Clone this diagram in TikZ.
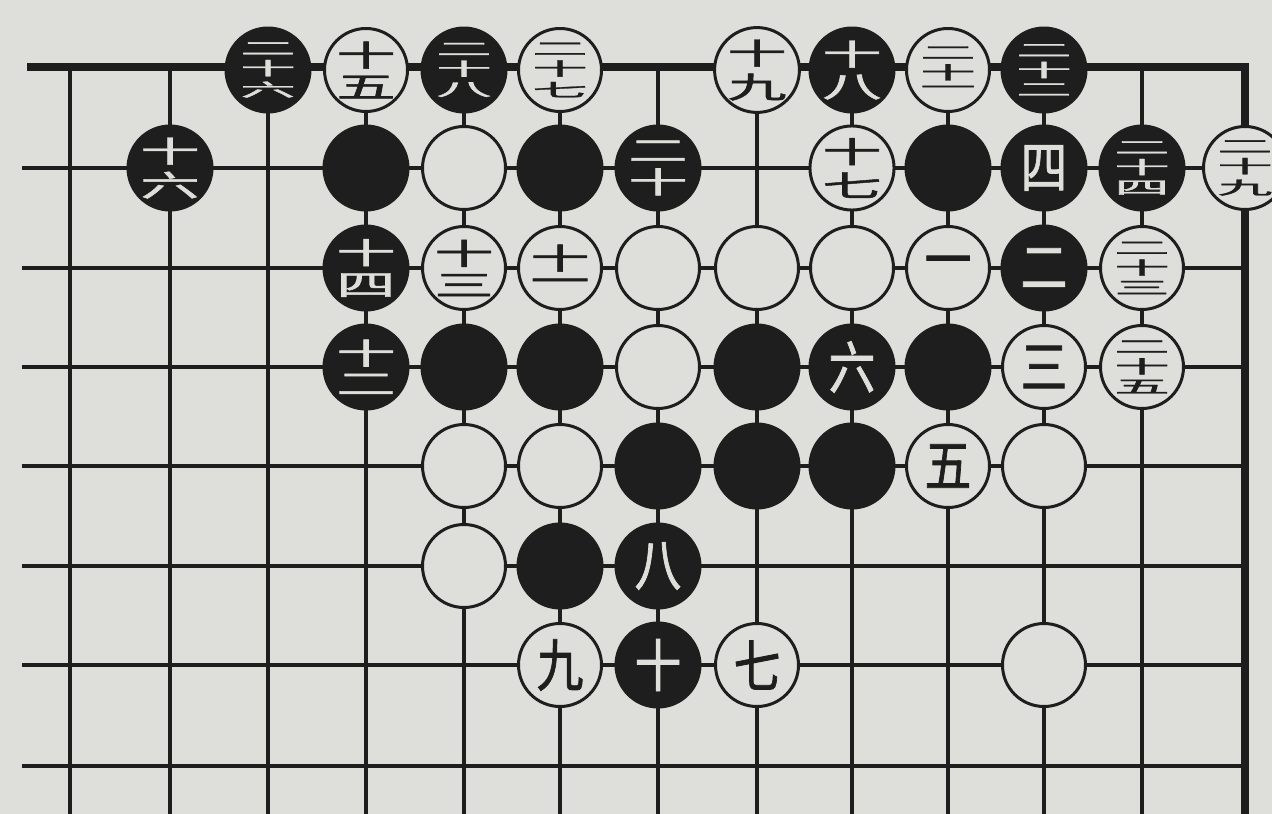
\documentclass[tikz,border=0pt]{standalone}
\usepackage{fontspec}
\usepackage{graphicx}
\newfontfamily\cjk[FakeBold=1.5]{Noto Sans CJK SC}
\definecolor{paper}{RGB}{222,222,218}
\definecolor{ink}{RGB}{30,30,30}
\newcommand\one[1]{\scalebox{0.95}[1.15]{#1}}
\newcommand\two[2]{\shortstack{\scalebox{1.2}[0.6]{#1}\\[1pt]\scalebox{1.2}[0.6]{#2}}}
\newcommand\three[3]{\shortstack{\scalebox{1.12}[0.36]{#1}\\[0pt]\scalebox{1.12}[0.36]{#2}\\[0pt]\scalebox{1.12}[0.36]{#3}}}
\tikzset{
  gridline/.style={ink, line width=1.9pt},
  edgeline/.style={ink, line width=4.5pt, line join=miter},
  bst/.style={circle, inner sep=0pt, minimum size=1.74cm, fill=ink, text=paper, font=\cjk\fontsize{28}{30}\selectfont},
  wst/.style={circle, inner sep=0pt, minimum size=1.66cm, draw=ink, line width=1.7pt, fill=paper, text=ink, font=\cjk\fontsize{28}{30}\selectfont}
}
\begin{document}
\begin{tikzpicture}[x=0.02cm,y=-0.02cm]
\fill[paper] (0,0) rectangle (1272,814);
\useasboundingbox (0,0) rectangle (1272,814);
% grid
\foreach \x in {70,170,268,366,464,560,658,757,852,948,1044,1142}
  \draw[gridline] (\x,67) -- (\x,814);
\foreach \y in {168,268,367,466,566,665,766}
  \draw[gridline] (22,\y) -- (1245,\y);
\draw[edgeline] (27,67) -- (1245,67) -- (1245,814);
% row 0
\node[bst] (s26) at (268,70) {\three{二}{十}{六}};
\node[wst] (s15) at (366,70) {\two{十}{五}};
\node[bst] (s28) at (464,70) {\three{二}{十}{八}};
\node[wst] (s27) at (560,70) {\three{二}{十}{七}};
\node[wst] (s19) at (757,70) {\two{十}{九}};
\node[bst] (s18) at (852,70) {\two{十}{八}};
\node[wst] (s21) at (948,70) {\three{二}{十}{一}};
\node[bst] (s22) at (1044,70) {\three{二}{十}{二}};
% row 1
\node[bst] (s16) at (170,168) {\two{十}{六}};
\node[bst] (b31) at (366,168) {};
\node[wst] (w41) at (464,168) {};
\node[bst] (b51) at (560,168) {};
\node[bst] (s20) at (658,168) {\two{二}{十}};
\node[wst] (s17) at (852,168) {\two{十}{七}};
\node[bst] (b91) at (948,168) {};
\node[bst] (s4) at (1044,168) {\one{四}};
\node[bst] (s24) at (1142,168) {\three{二}{十}{四}};
\node[wst] (s29) at (1245,168) {\three{二}{十}{九}};
% row 2
\node[bst] (s14) at (366,268) {\two{十}{四}};
\node[wst] (s13) at (464,268) {\two{十}{三}};
\node[wst] (s11) at (560,268) {\two{十}{一}};
\node[wst] (w62) at (658,268) {};
\node[wst] (w72) at (757,268) {};
\node[wst] (w82) at (852,268) {};
\node[wst] (s1) at (948,268) {\one{一}};
\node[bst] (s2) at (1044,268) {\one{二}};
\node[wst] (s23) at (1142,268) {\three{二}{十}{三}};
% row 3
\node[bst] (s12) at (366,367) {\two{十}{二}};
\node[bst] (b43) at (464,367) {};
\node[bst] (b53) at (560,367) {};
\node[wst] (w63) at (658,367) {};
\node[bst] (b73) at (757,367) {};
\node[bst] (s6) at (852,367) {\one{六}};
\node[bst] (b93) at (948,367) {};
\node[wst] (s3) at (1044,367) {\one{三}};
\node[wst] (s25) at (1142,367) {\three{二}{十}{五}};
% row 4
\node[wst] (w44) at (464,466) {};
\node[wst] (w54) at (560,466) {};
\node[bst] (b64) at (658,466) {};
\node[bst] (b74) at (757,466) {};
\node[bst] (b84) at (852,466) {};
\node[wst] (s5) at (948,466) {\one{五}};
\node[wst] (w104) at (1044,466) {};
% row 5
\node[wst] (w45) at (464,566) {};
\node[bst] (b55) at (560,566) {};
\node[bst] (s8) at (658,566) {\one{八}};
% row 6
\node[wst] (s9) at (560,665) {\one{九}};
\node[bst] (s10) at (658,665) {\one{十}};
\node[wst] (s7) at (757,665) {\one{七}};
\node[wst] (w106) at (1044,665) {};
\end{tikzpicture}
\end{document}
